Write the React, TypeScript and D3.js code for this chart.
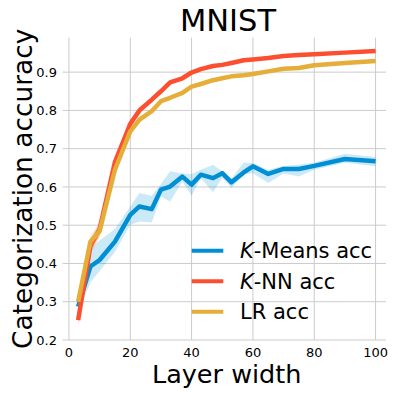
import * as d3 from 'd3'

// layer widths (x)
const widths = [3, 7, 10, 15, 20, 23, 27, 30, 33, 37, 40, 43, 47, 50, 53, 57, 60, 65, 70, 75, 80, 90, 100]

// K-Means accuracy + band
const kmeans = [0.287, 0.392, 0.409, 0.457, 0.527, 0.549, 0.542, 0.593, 0.601, 0.627, 0.606, 0.632, 0.623, 0.636, 0.612, 0.638, 0.654, 0.634, 0.647, 0.647, 0.655, 0.673, 0.667]
const kmeansLo = [0.27, 0.35, 0.38, 0.43, 0.501, 0.51, 0.507, 0.575, 0.562, 0.614, 0.577, 0.623, 0.586, 0.624, 0.597, 0.633, 0.636, 0.61, 0.635, 0.627, 0.645, 0.663, 0.654]
const kmeansHi = [0.3, 0.44, 0.46, 0.49, 0.549, 0.584, 0.577, 0.608, 0.641, 0.635, 0.634, 0.645, 0.658, 0.641, 0.622, 0.664, 0.662, 0.645, 0.655, 0.658, 0.663, 0.687, 0.678]

// K-NN accuracy + band
const knn = [0.252, 0.445, 0.49, 0.665, 0.765, 0.8, 0.828, 0.85, 0.873, 0.884, 0.899, 0.908, 0.916, 0.919, 0.924, 0.931, 0.933, 0.937, 0.942, 0.945, 0.947, 0.951, 0.955]
const knnLo = [0.235, 0.425, 0.47, 0.653, 0.755, 0.79, 0.824, 0.847, 0.87, 0.881, 0.896, 0.905, 0.913, 0.916, 0.921, 0.928, 0.93, 0.934, 0.939, 0.942, 0.944, 0.948, 0.952]
const knnHi = [0.27, 0.465, 0.51, 0.677, 0.775, 0.81, 0.832, 0.853, 0.876, 0.887, 0.902, 0.911, 0.919, 0.922, 0.927, 0.934, 0.936, 0.94, 0.945, 0.948, 0.95, 0.954, 0.958]

// LR accuracy + band
const lr = [0.3, 0.457, 0.484, 0.645, 0.745, 0.776, 0.798, 0.824, 0.833, 0.846, 0.862, 0.869, 0.879, 0.884, 0.889, 0.892, 0.895, 0.902, 0.909, 0.911, 0.918, 0.924, 0.929]
const lrLo = [0.285, 0.44, 0.468, 0.633, 0.735, 0.768, 0.794, 0.821, 0.83, 0.843, 0.859, 0.866, 0.876, 0.881, 0.886, 0.889, 0.892, 0.899, 0.906, 0.908, 0.915, 0.921, 0.926]
const lrHi = [0.315, 0.474, 0.5, 0.657, 0.755, 0.784, 0.802, 0.827, 0.836, 0.849, 0.865, 0.872, 0.882, 0.887, 0.892, 0.895, 0.898, 0.905, 0.912, 0.914, 0.921, 0.927, 0.932]

const xTicks = [0, 20, 40, 60, 80, 100]
const yTicks = [0.2, 0.3, 0.4, 0.5, 0.6, 0.7, 0.8, 0.9]

const series = [
  { name: 'K-Means acc', italic: 'K', rest: '-Means acc', mean: kmeans, lo: kmeansLo, hi: kmeansHi, color: '#008fd5' },
  { name: 'K-NN acc', italic: 'K', rest: '-NN acc', mean: knn, lo: knnLo, hi: knnHi, color: '#fc4f30' },
  { name: 'LR acc', italic: '', rest: 'LR acc', mean: lr, lo: lrLo, hi: lrHi, color: '#e5ae38' },
]

const W = 398
const H = 397
const FONT = 'DejaVu Sans'

export default function App() {
  const x = d3.scaleLinear().domain([-2.1, 103.4]).range([62.5, 386])
  const y = d3.scaleLinear().domain([0.2, 0.99]).range([340, 37.7])
  const [x0, x1] = x.range()
  const [y0, y1] = y.range()

  const line = (vals: number[]) =>
    d3.line<number>().x((_, i) => x(widths[i])).y(d => y(d))(vals) || ''
  const area = (lo: number[], hi: number[]) =>
    d3.area<number>().x((_, i) => x(widths[i])).y0((_, i) => y(lo[i])).y1((_, i) => y(hi[i]))(lo) || ''

  return (
    <svg width={W} height={H} style={{ position: 'absolute', left: 0, top: 0, background: '#fff' }} fontFamily={FONT}>
      {/* grid */}
      {xTicks.map(t => (
        <line key={'gx' + t} x1={x(t)} x2={x(t)} y1={y1} y2={y0} stroke="#cbcbcb" strokeWidth={1} />
      ))}
      {yTicks.map(t => (
        <line key={'gy' + t} x1={x0} x2={x1} y1={y(t)} y2={y(t)} stroke="#cbcbcb" strokeWidth={1} />
      ))}

      {/* bands and lines */}
      {series.map(s => (
        <g key={s.name}>
          <path d={area(s.lo, s.hi)} fill={s.color} fillOpacity={0.2} />
          <path d={line(s.mean)} fill="none" stroke={s.color} strokeWidth={4.5} strokeLinejoin="round" />
        </g>
      ))}

      {/* tick labels */}
      {xTicks.map(t => (
        <text key={'tx' + t} x={x(t)} y={356.5} fontSize={13} textAnchor="middle" fill="#000">{t}</text>
      ))}
      {yTicks.map(t => (
        <text key={'ty' + t} x={57} y={y(t) + 4.7} fontSize={13} textAnchor="end" fill="#000">{t.toFixed(1)}</text>
      ))}

      {/* titles */}
      <text x={228} y={31} fontSize={30.5} textAnchor="middle" fill="#000">MNIST</text>
      <text x={226.7} y={383.3} fontSize={25.5} textAnchor="middle" fill="#000">Layer width</text>
      <text transform={`translate(32,${(y0 + y1) / 2}) rotate(-90)`} fontSize={26.4} textAnchor="middle" fill="#000">
        Categorization accuracy
      </text>

      {/* legend */}
      {series.map((s, i) => {
        const ly = 250.7 + i * 30.5
        return (
          <g key={'lg' + s.name}>
            <line x1={191.7} x2={223.3} y1={ly} y2={ly} stroke={s.color} strokeWidth={4} />
            <text x={240} y={ly + 7.6} fontSize={21}>
              {s.italic && <tspan fontStyle="italic">{s.italic}</tspan>}
              {s.rest}
            </text>
          </g>
        )
      })}
    </svg>
  )
}
